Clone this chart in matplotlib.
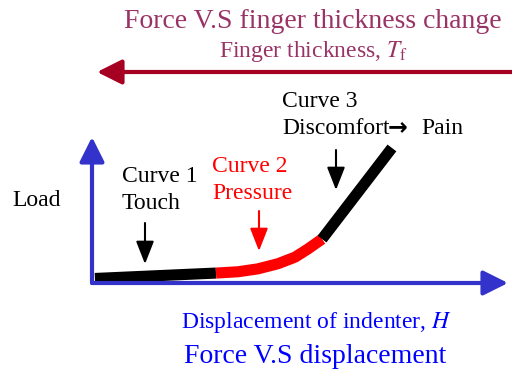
import matplotlib
matplotlib.use("Agg")
import matplotlib.pyplot as plt

# curve pieces: displacement (x) and load (y), arbitrary units
disp_touch = [0.07, 2.98]
load_touch = [0.31, 0.68]

disp_pressure = [2.98, 3.51, 3.99, 4.47, 4.88, 5.19, 5.53]
load_pressure = [0.68, 0.77, 0.97, 1.32, 1.77, 2.33, 3.01]

disp_pain = [5.53, 7.21]
load_pain = [3.01, 9.25]

curve_names = ["Curve 1", "Curve 2", "Curve 3"]
curve_notes = ["Touch", "Pressure", "Discomfort"]

plt.rcParams["font.family"] = ["Liberation Serif", "DejaVu Serif"]
plt.rcParams["mathtext.fontset"] = "stix"

W, H = 512, 370
fig = plt.figure(figsize=(W / 100, H / 100), dpi=100)

# overlay in pixel units for the annotations
ov = fig.add_axes([0, 0, 1, 1])
ov.set_xlim(0, W)
ov.set_ylim(H, 0)
ov.axis("off")

# data axes: origin at the corner of the blue arrows
ax = fig.add_axes([92 / W, (H - 283) / H, 416 / W, 146 / H])
ax.set_xlim(0, 10)
ax.set_ylim(0, 10)
ax.axis("off")

blue_axis = "#3333CC"
for tip in [(1, 0), (0, 1)]:
    ax.annotate("", xy=tip, xytext=(0, 0), xycoords="axes fraction",
                arrowprops=dict(arrowstyle="-|>,head_length=15,head_width=7.5",
                                mutation_scale=1, lw=3, color=blue_axis,
                                shrinkA=0, shrinkB=0))

lw = 8
ax.plot(disp_touch, load_touch, color="black", lw=lw, solid_capstyle="butt", clip_on=False)
ax.plot(disp_pressure, load_pressure, color="red", lw=lw, solid_capstyle="butt",
        solid_joinstyle="round", clip_on=False)
ax.plot(disp_pain, load_pain, color="black", lw=lw, solid_capstyle="butt", clip_on=False)

# top: finger thickness direction
maroon = "#993366"
ov.text(313, 28, "Force V.S finger thickness change", color=maroon,
        fontsize=20, ha="center", va="baseline")
ov.text(313, 57, r"Finger thickness, $T_{\rm f}$", color=maroon,
        fontsize=17, ha="center", va="baseline")
ov.annotate("", xy=(97, 72), xytext=(513, 72), xycoords="data",
            arrowprops=dict(arrowstyle="-|>,head_length=15,head_width=7.5",
                            mutation_scale=1, lw=3, color="#A50021",
                            shrinkA=0, shrinkB=0))

# axis labels
ov.text(12, 206, "Load", fontsize=17, ha="left", va="baseline")
ov.text(316, 328, "Displacement of indenter, $H$", color="#0000FF",
        fontsize=17, ha="center", va="baseline")
ov.text(315, 363, "Force V.S displacement", color="#0000FF",
        fontsize=20, ha="center", va="baseline")

# curve labels and pointers
label_pos = [(122, 182), (212, 172), (282, 107)]
label_col = ["black", "red", "black"]
pointer_x = [145, 259, 336]
pointer_y = [(223, 264), (211, 251), (150, 190)]
for name, note, (tx, ty), c, px, (y0, y1) in zip(curve_names, curve_notes, label_pos,
                                                  label_col, pointer_x, pointer_y):
    ov.text(tx, ty, name, color=c, fontsize=17, ha="left", va="baseline")
    ov.text(tx, ty + 27, note, color=c, fontsize=17, ha="left", va="baseline")
    ov.annotate("", xy=(px, y1), xytext=(px, y0),
                arrowprops=dict(arrowstyle="-|>,head_length=14,head_width=5.5",
                                mutation_scale=1, lw=1.5, color=c,
                                shrinkA=0, shrinkB=0))

# "Discomfort -> Pain": heavier arrow glyph
ov.text(388, 134, "\u2192", fontsize=17, family=["DejaVu Sans"], fontweight="bold",
        ha="left", va="baseline")
ov.text(421, 134, "Pain", fontsize=17, ha="left", va="baseline")

fig.savefig("out.png", dpi=100)
